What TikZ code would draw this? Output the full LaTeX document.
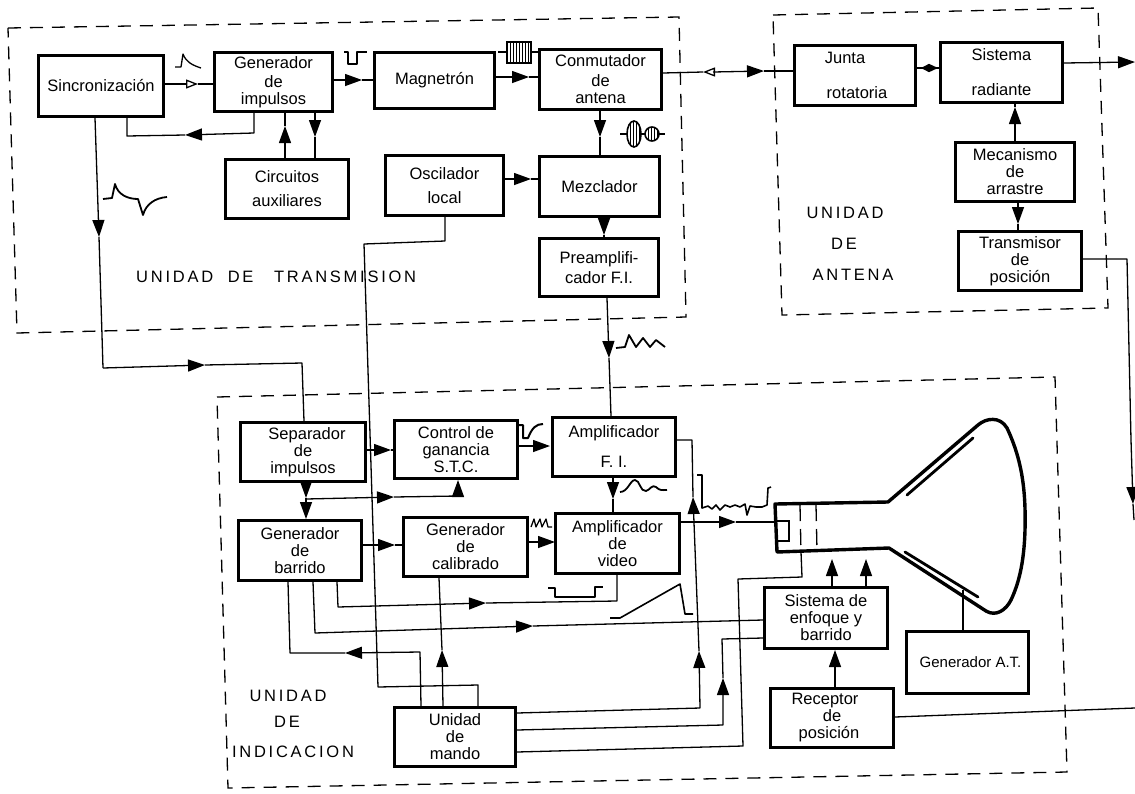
\documentclass[tikz,border=0pt]{standalone}
\usepackage{fontspec}
\setmainfont{Liberation Sans}
\usetikzlibrary{arrows.meta,patterns}
\tikzset{
  x=1pt,y=-1pt,
  box/.style={draw,line width=3pt,inner sep=0pt,align=center,font=\fontsize{16.5}{18}\selectfont},
  conn/.style={line width=1.3pt,line join=round},
  ar/.style={conn,-{Triangle[length=17pt,width=12pt]}},
  oar/.style={conn,-{Triangle[open,length=12pt,width=9pt,fill=white]}},
  zone/.style={line width=1.3pt,dash pattern=on 13pt off 9pt},
  wave/.style={line width=1.3pt,line join=round},
  lab/.style={inner sep=0pt,font=\fontsize{16.5}{18}\selectfont},
}
\newcommand{\bx}[6]{\node[box,minimum width={#4-#2-1},minimum height={#5-#3-1}] (#1) at ({(#2+#4)/2},{(#3+#5)/2}) {#6};}
\begin{document}
\begin{tikzpicture}
\useasboundingbox (0,0) rectangle (1135,793);
% zones
\draw[zone] (8,28) -- (679,17) -- (686,317) -- (17,333) -- cycle;
\draw[zone] (773,15) -- (1098,8) -- (1108,308) -- (782,315) -- cycle;
\draw[zone] (217,397) -- (1055,377) -- (1067,772) -- (228,788) -- cycle;
% boxes: transmission
\bx{sc}{38}{55}{164}{117}{Sincronización}
\bx{gi}{214}{52}{333}{112}{Generador\\[1pt]de\\[-1pt]impulsos}
\bx{ma}{374}{52}{495}{109}{Magnetrón}
\bx{co}{539}{49}{662}{110}{Conmutador\\[2pt]de\\[-1pt]antena}
\bx{ci}{225}{159}{349}{219}{Circuitos\\[6pt]auxiliares}
\bx{os}{385}{155}{504}{216}{Oscilador\\[6pt]local}
\bx{me}{539}{156}{660}{217}{Mezclador}
\bx{pr}{539}{238}{659}{297}{Preamplifi-\\[2pt]cador F.I.}
% boxes: antenna
\bx{ju}{794}{45}{916}{106}{Junta\hspace*{20pt}\\[17pt]\hspace*{4pt}rotatoria}
\bx{sr}{940}{42}{1063}{103}{Sistema\\[17pt]radiante}
\bx{mc}{955}{142}{1075}{202}{Mecanismo\\[-1pt]de\\[-1pt]arrastre}
\bx{tr}{958}{231}{1082}{291}{Transmisor\\[-1pt]de\\[-1pt]posición}
% boxes: indication
\bx{se}{240}{422}{366}{482}{\hspace*{8pt}Separador\\[-1pt]de\\[-1pt]impulsos}
\bx{ct}{394}{420}{518}{479}{Control de\\[-1pt]ganancia\\[-1pt]S.T.C.}
\bx{af}{552}{417}{676}{477}{Amplificador\\[12pt]F. I.}
\bx{gb}{238}{520}{362}{581}{Generador\\[-1pt]de\\[-1pt]barrido}
\bx{gc}{403}{517}{528}{577}{Generador\\[-1pt]de\\[-1pt]calibrado}
\bx{av}{555}{513}{680}{574}{Amplificador\\[-1pt]de\\[-1pt]video}
\bx{um}{394}{707}{516}{767}{Unidad\\[-1pt]de\\[-1pt]mando}
\bx{ss}{764}{587}{888}{649}{Sistema de\\[-1pt]enfoque y\\[-1pt]barrido}
\bx{re}{770}{688}{894}{748}{Receptor\hspace*{14pt}\\[-1pt]de\\[-1pt]posición\hspace*{6pt}}
\bx{at}{906}{631}{1029}{694}{\fontsize{15}{18}\selectfont\hspace*{6pt}Generador A.T.}
% tube
\coordinate (tk) at (775,522);
\coordinate (tb) at (801,552);
\coordinate (ta) at (963,590);
\coordinate (tf) at (832,559);
\coordinate (tg) at (866,559);
\draw[line width=3.4pt,line join=round] (775,504) -- (888,502) -- (978,425)
  .. controls (986,418) and (1000,416) .. (1007,428)
  .. controls (1022,460) and (1026,490) .. (1025,530)
  .. controls (1024,565) and (1018,585) .. (1011,600)
  .. controls (1006,610) and (996,617) .. (986,611)
  -- (889,548) -- (777,552) -- cycle;
\draw[line width=2.8pt,line cap=round] (907,495) -- (973,438);
\draw[line width=2.8pt,line cap=round] (905,552) -- (978,597);
\draw[line width=2pt] (776,521) -- (789,521) -- (789,541) -- (777,541);
\draw[line width=1.3pt,dash pattern=on 16pt off 8pt] (800,505) -- (801,552);
\draw[line width=1.3pt,dash pattern=on 16pt off 8pt] (816,505) -- (817,550);
% connectors: transmission
\draw[oar] (sc.east |- 0,84) -- (198,84);
\draw[conn] (198,84) -- (gi.west |- 0,84);
\draw[ar] (gi.east |- 0,80) -- (362,80);
\draw[conn] (362,80) -- (ma.west |- 0,80);
\draw[ar] (ma.east |- 0,77) -- (529,77);
\draw[conn] (529,77) -- (co.west |- 0,77);
\draw[ar] (gi.south -| 254,0) -- (254,133) -- (185,135);
\draw[conn] (185,135) -- (127,136) -- (sc.south -| 127,0);
\draw[ar] (ci.north -| 285,0) -- (285,126);
\draw[conn] (285,126) -- (gi.south -| 285,0);
\draw[ar] (gi.south -| 315,0) -- (315,137);
\draw[conn] (315,137) -- (ci.north -| 315,0);
\draw[ar] (co.south -| 600,0) -- (600,137);
\draw[conn] (600,137) -- (me.north -| 600,0);
\draw[ar] (os.east |- 0,179) -- (531,179);
\draw[conn] (531,179) -- (me.west |- 0,179);
\draw[ar] (me.south -| 604,0) -- (604,235);
\draw[conn] (604,235) -- (pr.north -| 604,0);
\draw[conn] (co.east |- 0,73) -- (703,72);
\draw[oar] (713,72) -- (703,72);
\draw[ar] (713,72) -- (764,71);
\draw[conn] (764,71) -- (ju.west |- 0,71);
\draw[conn,-{Triangle[length=8pt,width=8pt]}] (929,68) -- (921,68);
\draw[conn,-{Triangle[length=9pt,width=8pt]}] (921,68) -- (938,68);
\draw[conn] (ju.east |- 0,68) -- (sr.west |- 0,68);
\draw[ar] (sr.east |- 0,63) -- (1135,62);
\draw[ar] (mc.north -| 1015,0) -- (1015,107);
\draw[conn] (1015,107) -- (sr.south -| 1015,0);
\draw[ar] (mc.south -| 1018,0) -- (1018,224);
\draw[conn] (1018,224) -- (tr.north -| 1018,0);
% long connectors
\draw[ar] (sc.south -| 95,0) -- (99,237);
\draw[conn] (99,237) -- (103,368);
\draw[ar] (103,368) -- (205,365);
\draw[conn] (205,365) -- (302,363) -- (se.north -| 304,0);
\draw[conn] (os.south -| 445,0) -- (445,241) -- (364,244) -- (378,687) -- (478,685) -- (um.north -| 478,0);
\draw[ar] (pr.south -| 607,0) -- (609,358);
\draw[conn] (609,358) -- (af.north -| 611,0);
% connectors: indication
\draw[ar] (se.east |- 0,450) -- (391,450);
\draw[conn] (391,450) -- (ct.west |- 0,450);
\draw[ar] (ct.east |- 0,446) -- (550,446);
\draw[ar] (af.south -| 613,0) -- (613,499);
\draw[conn] (613,499) -- (av.north -| 613,0);
\draw[ar] (gb.east |- 0,545) -- (395,545);
\draw[conn] (395,545) -- (gc.west |- 0,545);
\draw[ar] (gc.east |- 0,542) -- (555,542);
\draw[ar] (se.south -| 306,0) -- (306,498);
\draw[ar] (306,498) -- (306,519);
\draw[ar] (306,499) -- (394,497);
\draw[conn] (394,497) -- (458,496);
\draw[ar] (458,496) -- (ct.south -| 458,0);
\draw[ar] (av.east |- 0,522) -- (736,522);
\draw[conn] (736,522) -- (tk);
\draw[conn] (gb.south -| 288,0) -- (290,653) -- (345,653);
\draw[ar] (um.north -| 421,0) -- (420,652) -- (345,653);
\draw[ar] (um.north -| 443,0) -- (442,650);
\draw[conn] (442,650) -- (gc.south -| 439,0);
\draw[ar] (gb.south -| 337,0) -- (338,607) -- (486,603);
\draw[conn] (486,603) -- (617,601) -- (av.south -| 617,0);
\draw[ar] (gb.south -| 313,0) -- (315,633) -- (533,626);
\draw[conn] (533,626) -- (ss.west |- 0,620);
\draw[ar] (um.east |- 0,713) -- (700,708) -- (699,651);
\draw[ar] (699,651) -- (693,497);
\draw[conn] (693,497) -- (692,440) -- (af.east |- 0,440);
\draw[ar] (um.east |- 0,730) -- (723,725) -- (723,678);
\draw[conn] (723,678) -- (722,639) -- (ss.west |- 0,638);
\draw[conn] (um.east |- 0,752) -- (743,746) -- (738,579) -- (802,577) -- (tb);
\draw[ar] (ss.north -| 832,0) -- (tf);
\draw[ar] (ss.north -| 866,0) -- (tg);
\draw[ar] (re.north -| 835,0) -- (ss.south -| 835,0);
\draw[conn] (at.north -| 963,0) -- (ta);
\draw[conn] (re.east |- 0,717) -- (1135,708);
\draw[conn] (tr.east |- 0,259) -- (1127,259) -- (1131,440);
\draw[ar] (1131,440) -- (1133,504);
\draw[conn] (1133,504) -- (1134,520);
% waveforms
\draw[wave] (175,67) -- (181,67) -- (183,54) .. controls (186,62) and (192,65) .. (201,68);
\draw[wave,line width=2.4pt] (344,52) -- (348,52) -- (348,64) -- (357,64) -- (357,52) -- (367,52);
\draw[wave] (498,52) -- (538,52);
\fill[white] (507,42) rectangle (531,63);
\draw[line width=1.6pt,pattern=vertical lines] (507,42) rectangle (531,63);
\draw[wave,line width=1.8pt] (103,199) -- (112,198) -- (115,184) .. controls (118,195) and (128,199) .. (138,199) -- (143,215) .. controls (146,204) and (155,198) .. (167,197);
\draw[wave] (620,134) -- (665,134);
\fill[white] (634,134) ellipse [x radius=7,y radius=13];
\fill[white] (652,134) ellipse [x radius=7,y radius=7];
\draw[line width=1.6pt,pattern=vertical lines] (634,134) ellipse [x radius=7,y radius=13];
\draw[line width=1.6pt,pattern=vertical lines] (652,134) ellipse [x radius=7,y radius=7];
\draw[wave,line width=1.8pt] (616,348) -- (625,347) -- (629,335) -- (636,347) -- (643,338) -- (650,347) -- (656,340) -- (665,347);
\draw[wave,line width=2pt] (519,425) -- (523,425) -- (523,438) -- (528,438) .. controls (532,428) and (536,424) .. (543,424);
\draw[wave,line width=1.8pt] (620,492) .. controls (628,492) and (630,480) .. (635,480) .. controls (640,480) and (640,492) .. (646,491) .. controls (650,490) and (652,484) .. (656,487) .. controls (660,491) and (662,490) .. (667,490);
\draw[wave] (531,527) -- (534,519) -- (536,527) -- (540,519) -- (542,527) -- (546,519) -- (548,527) -- (552,527);
\draw[wave,line width=1.6pt] (548,588) -- (555,588) -- (555,597) -- (595,597) -- (595,587) -- (603,587);
\draw[wave,line width=1.6pt] (610,618) -- (620,618) -- (680,584) -- (685,614) -- (693,614);
\draw[wave,line width=1.6pt] (697,475) -- (702,475) -- (702,508) -- (708,506) -- (712,509) -- (716,505) -- (720,510) -- (725,505) -- (730,507) -- (735,505) -- (740,507) -- (745,504) -- (747,515) -- (750,506) -- (756,507) -- (762,507) -- (767,505) -- (768,488) -- (771,487);
% labels
\node[lab,anchor=west] (l1) at (136,277) {U\,N\,I\,D\,A\,D\hspace{10pt} D\,E \hspace{16pt}T\,R\,A\,N\,S\,M\,I\,S\,I\,O\,N};
\node[lab] (l2) at (845,213) {U\,N\,I\,D\,A\,D};
\node[lab] (l3) at (844,244) {D\,E};
\node[lab] (l4) at (853,275) {A\,N\,T\,E\,N\,A};
\node[lab] (l5) at (288,696) {U\,N\,I\,D\,A\,D};
\node[lab] (l6) at (287,722) {D\,E};
\node[lab] (l7) at (293,752) {I\,N\,D\,I\,C\,A\,C\,I\,O\,N};
\end{tikzpicture}
\end{document}
